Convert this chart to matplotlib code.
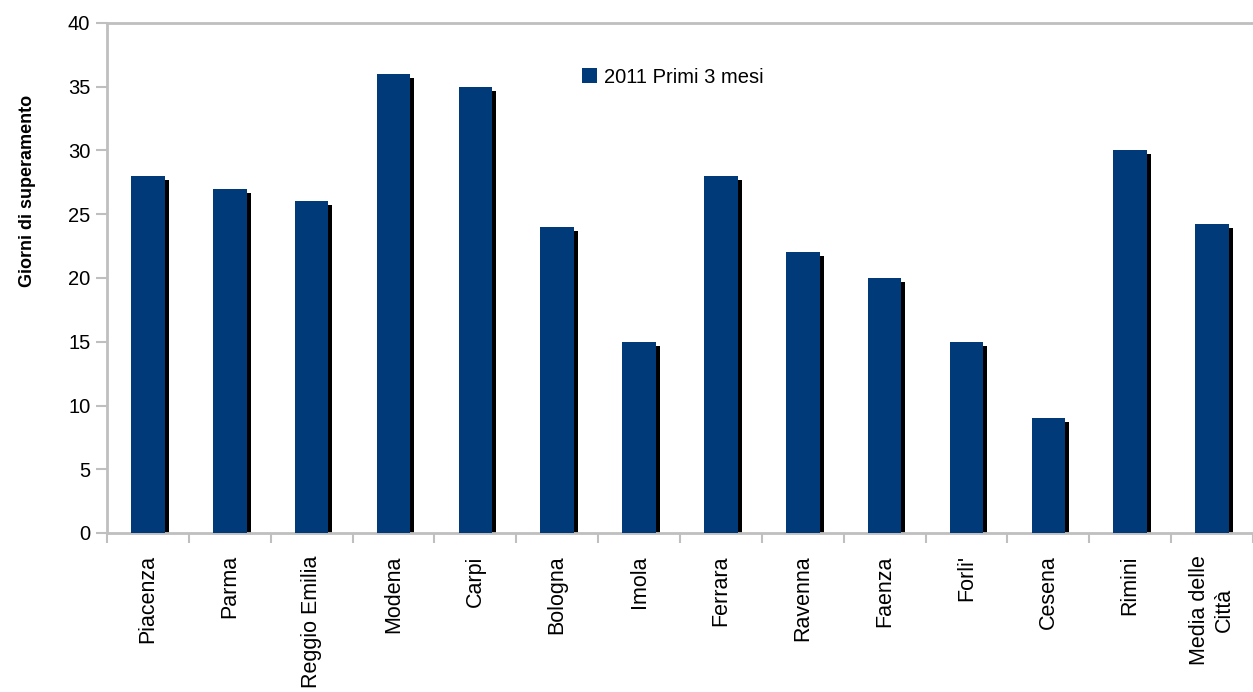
import matplotlib.pyplot as plt
import numpy as np

plt.rcParams['font.family'] = ['Liberation Sans', 'DejaVu Sans']

cities = ["Piacenza", "Parma", "Reggio Emilia", "Modena", "Carpi", "Bologna",
          "Imola", "Ferrara", "Ravenna", "Faenza", "Forli'", "Cesena",
          "Rimini", "Media delle\nCittà"]
giorni = [28, 27, 26, 36, 35, 24, 15, 28, 22, 20, 15, 9, 30, 24.2]
series_label = "2011 Primi 3 mesi"

bar_color = "#003a78"
axis_gray = "#bfbfbf"

fig = plt.figure(figsize=(12.53, 6.92), dpi=100)
ax = fig.add_axes([107 / 1253, 1 - 533 / 692, (1253 - 107) / 1253, (533 - 23) / 692])

x = np.arange(len(cities))
width = 0.41
# shadow a few pixels right and down
dx = 4 / 82.0
dy = 4 / 12.75
ax.bar(x + dx, np.array(giorni) - dy, width=width, color="black", zorder=2)
ax.bar(x, giorni, width=width, color=bar_color, zorder=3, label=series_label)

ax.set_xlim(-0.5, len(cities) - 0.5)
ax.set_ylim(0, 40)
ax.set_yticks(range(0, 41, 5))
ax.tick_params(axis='y', labelsize=14.5, colors=axis_gray, labelcolor="black",
               length=8, width=1.5, pad=4)
ax.set_xticks(x)
ax.set_xticklabels(cities, rotation=90, fontsize=15.5, ha="center", va="top", multialignment="center")
ax.set_xticks(np.arange(-0.5, len(cities)), minor=True)
ax.tick_params(axis='x', which='major', length=0, pad=16)
ax.tick_params(axis='x', which='minor', length=7, width=1.5, colors=axis_gray)

for side in ["left", "bottom", "top"]:
    ax.spines[side].set_color(axis_gray)
    ax.spines[side].set_linewidth(2)
ax.spines["right"].set_visible(False)

ax.set_ylabel("Giorni di superamento", fontsize=13, fontweight="bold")
ax.yaxis.set_label_coords(-0.062, 0.67)

ax.legend(loc="upper left", bbox_to_anchor=(0.399, 0.948), frameon=False, fontsize=14.5,
          handlelength=0.75, handleheight=0.75, handletextpad=0.3)

plt.savefig("out.png", dpi=100)
plt.close()
